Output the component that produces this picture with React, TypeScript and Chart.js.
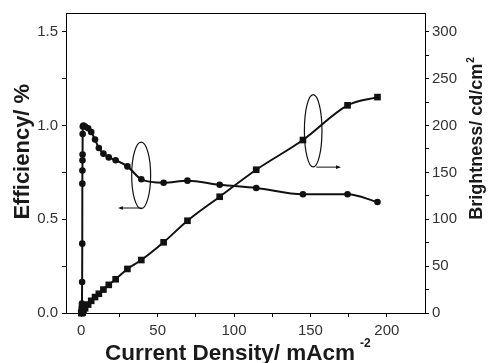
import React, { useEffect, useRef } from "react";
import { Chart, registerables } from "chart.js";

Chart.register(...registerables);

// ---- Data ----
const CURRENT_DENSITY = [0, 0.3, 0.45, 0.55, 0.65, 0.7, 0.75, 0.8, 0.85, 0.9, 1.0, 1.4, 2.5, 4.5, 6.5, 9.0, 11.5, 14.5, 18.0, 22.5, 30.2, 39.3, 53.9, 69.5, 90.6, 114.5, 145.1, 174.3, 193.9];
const EFFICIENCY = [0.01, 0.03, 0.05, 0.165, 0.37, 0.69, 0.76, 0.815, 0.845, 0.955, 0.995, 1.0, 0.995, 0.985, 0.965, 0.925, 0.88, 0.85, 0.83, 0.815, 0.782, 0.713, 0.695, 0.706, 0.684, 0.667, 0.633, 0.633, 0.592];
const BRIGHTNESS = [0, 0.1, 0.2, 0.3, 0.5, 0.8, 1.0, 1.2, 1.4, 1.6, 2.0, 2.8, 5, 9, 13, 17, 20.5, 25, 30, 36, 47, 56.5, 75.4, 98.4, 124, 152.8, 184.5, 221.5, 230.3];

const X_TICKS = [0, 25, 50, 75, 100, 125, 150, 175, 200];
const X_LABELS = [0, 50, 100, 150, 200];
const Y_TICKS = [0, 0.25, 0.5, 0.75, 1.0, 1.25, 1.5];
const Y_LABELS = [0, 0.5, 1.0, 1.5];
const Y1_TICKS = [0, 25, 50, 75, 100, 125, 150, 175, 200, 225, 250, 275, 300];
const Y1_LABELS = [0, 50, 100, 150, 200, 250, 300];

const X_TITLE = "Current Density/ mAcm";
const X_TITLE_SUP = "-2";
const Y_TITLE = "Efficiency/ %";
const Y1_TITLE = "Brightness/ cd/cm";
const Y1_TITLE_SUP = "2";

// annotation ellipses (data units on x / left y) and arrows
const ELLIPSES = [
  { cx: 39.2, cy: 0.734, rx: 6.2, ry: 0.177 },
  { cx: 151.8, cy: 0.972, rx: 5.75, ry: 0.193 },
];
const ARROWS = [
  { x1: 39.6, x2: 24.0, y: 0.56 },
  { x1: 153.9, x2: 170.0, y: 0.778 },
];

const FONT = '"Liberation Sans", Arial, Helvetica, sans-serif';
const INK = "#111";
const TICK_COLOR = "#333";

export default function App() {
  const ref = useRef<HTMLCanvasElement | null>(null);

  useEffect(() => {
    const canvas = ref.current;
    if (!canvas) return;

    const decor = {
      id: "decor",
      afterDraw(chart: any) {
        const { ctx, chartArea, scales } = chart;
        const sx = scales.x;
        const sy = scales.y;
        ctx.save();
        // top frame line
        ctx.strokeStyle = "#000";
        ctx.lineWidth = 1;
        ctx.beginPath();
        ctx.moveTo(chartArea.left, chartArea.top + 0.5);
        ctx.lineTo(chartArea.right, chartArea.top + 0.5);
        ctx.stroke();

        // ellipses
        ctx.strokeStyle = INK;
        ctx.lineWidth = 1.2;
        ELLIPSES.forEach((e) => {
          const cx = sx.getPixelForValue(e.cx);
          const cy = sy.getPixelForValue(e.cy);
          const rx = Math.abs(sx.getPixelForValue(e.cx + e.rx) - cx);
          const ry = Math.abs(sy.getPixelForValue(e.cy + e.ry) - cy);
          ctx.beginPath();
          ctx.ellipse(cx, cy, rx, ry, 0, 0, Math.PI * 2);
          ctx.stroke();
        });
        // arrows
        ctx.lineWidth = 1;
        ctx.fillStyle = INK;
        ARROWS.forEach((a) => {
          const x1 = sx.getPixelForValue(a.x1);
          const x2 = sx.getPixelForValue(a.x2);
          const y = sy.getPixelForValue(a.y);
          const dir = x2 > x1 ? 1 : -1;
          ctx.beginPath();
          ctx.moveTo(x1, y);
          ctx.lineTo(x2 - dir * 3, y);
          ctx.stroke();
          ctx.beginPath();
          ctx.moveTo(x2, y);
          ctx.lineTo(x2 - dir * 5, y - 1.8);
          ctx.lineTo(x2 - dir * 5, y + 1.8);
          ctx.closePath();
          ctx.fill();
        });

        // titles
        ctx.fillStyle = "#1a1a1a";
        ctx.textBaseline = "alphabetic";
        ctx.textAlign = "left";
        // x title
        ctx.font = `bold 22.5px ${FONT}`;
        const mainW = ctx.measureText(X_TITLE).width;
        const xStart = chartArea.left + 39;
        ctx.fillText(X_TITLE, xStart, 360);
        ctx.font = `bold 12px ${FONT}`;
        ctx.fillText(X_TITLE_SUP, xStart + mainW + 5, 346.5);

        // left y title
        ctx.save();
        ctx.translate(28.5, 151.7);
        ctx.rotate(-Math.PI / 2);
        ctx.font = `bold 22px ${FONT}`;
        ctx.textAlign = "center";
        ctx.fillText(Y_TITLE, 0, 0);
        ctx.restore();

        // right y title
        ctx.save();
        ctx.font = `bold 18px ${FONT}`;
        const rW = ctx.measureText(Y1_TITLE).width;
        ctx.font = `bold 10px ${FONT}`;
        const rsW = ctx.measureText(Y1_TITLE_SUP).width;
        const total = rW + 1 + rsW;
        ctx.translate(481.5, 138.5);
        ctx.rotate(-Math.PI / 2);
        ctx.textAlign = "left";
        ctx.font = `bold 18px ${FONT}`;
        ctx.fillText(Y1_TITLE, -total / 2, 0);
        ctx.font = `bold 10px ${FONT}`;
        ctx.fillText(Y1_TITLE_SUP, -total / 2 + rW + 1, -7.5);
        ctx.restore();

        ctx.restore();
      },
    };

    const axisCommon = (extra: any) => ({
      grid: { drawOnChartArea: false, drawTicks: true, tickLength: 4, color: "#000", tickColor: "#000" },
      border: { display: true, color: "#000", width: 1 },
      ...extra,
    });

    const chart = new Chart(canvas, {
      type: "line",
      data: {
        datasets: [
          {
            label: "Efficiency",
            data: CURRENT_DENSITY.map((x, i) => ({ x, y: EFFICIENCY[i] })),
            yAxisID: "y",
            borderColor: INK,
            backgroundColor: INK,
            borderWidth: 2,
            pointStyle: "circle",
            pointRadius: 3.3,
            pointBorderWidth: 0,
            pointBackgroundColor: INK,
            cubicInterpolationMode: "monotone",
            clip: false,
          },
          {
            label: "Brightness",
            data: CURRENT_DENSITY.map((x, i) => ({ x, y: BRIGHTNESS[i] })),
            yAxisID: "y1",
            borderColor: INK,
            backgroundColor: INK,
            borderWidth: 2,
            pointStyle: "rect",
            pointRadius: 4.7,
            pointBorderWidth: 0,
            pointBackgroundColor: INK,
            cubicInterpolationMode: "monotone",
            clip: false,
          },
        ],
      },
      options: {
        responsive: false,
        animation: false,
        events: [],
        layout: { padding: { top: 12, left: 0, right: 0, bottom: 0 } },
        plugins: { legend: { display: false }, tooltip: { enabled: false } },
        scales: {
          x: axisCommon({
            type: "linear",
            min: -10,
            max: 225,
            afterBuildTicks: (s: any) => {
              s.ticks = X_TICKS.map((v) => ({ value: v }));
            },
            afterFit: (s: any) => {
              s.height = 50;
            },
            ticks: {
              autoSkip: false,
              maxRotation: 0,
              padding: 5,
              color: TICK_COLOR,
              font: { family: FONT, size: 15 },
              callback: (v: any) => (X_LABELS.includes(Number(v)) ? String(v) : ""),
            },
          }),
          y: axisCommon({
            type: "linear",
            position: "left",
            min: 0,
            max: 1.6,
            afterBuildTicks: (s: any) => {
              s.ticks = Y_TICKS.map((v) => ({ value: v }));
            },
            afterFit: (s: any) => {
              s.width = 66;
            },
            ticks: {
              autoSkip: false,
              padding: 4,
              color: TICK_COLOR,
              font: { family: FONT, size: 15 },
              callback: (v: any) => (Y_LABELS.includes(Number(v)) ? Number(v).toFixed(1) : ""),
            },
          }),
          y1: axisCommon({
            type: "linear",
            position: "right",
            min: 0,
            max: 320,
            afterBuildTicks: (s: any) => {
              s.ticks = Y1_TICKS.map((v) => ({ value: v }));
            },
            afterFit: (s: any) => {
              s.width = 66;
            },
            ticks: {
              autoSkip: false,
              padding: 3,
              color: TICK_COLOR,
              font: { family: FONT, size: 15 },
              callback: (v: any) => (Y1_LABELS.includes(Number(v)) ? String(v) : ""),
            },
          }),
        },
      },
      plugins: [decor],
    } as any);

    return () => chart.destroy();
  }, []);

  return (
    <div style={{ position: "fixed", left: 0, top: 0, width: 491, height: 363, background: "#fff" }}>
      <canvas ref={ref} width={491} height={363} style={{ display: "block", width: 491, height: 363 }} />
    </div>
  );
}
